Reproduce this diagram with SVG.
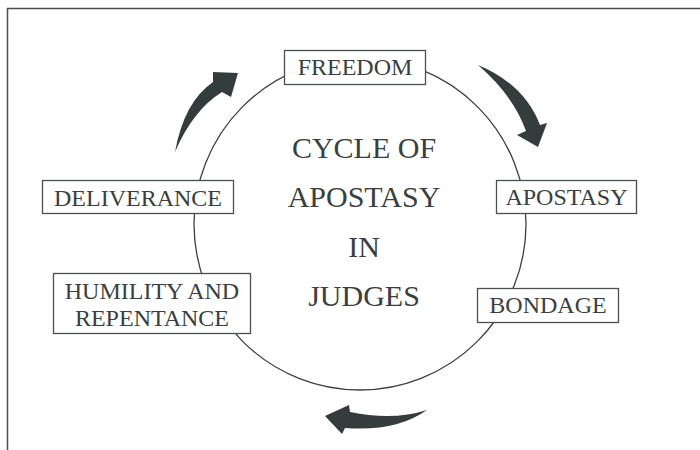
<svg xmlns="http://www.w3.org/2000/svg" width="700" height="450" viewBox="0 0 700 450">
<style>
.frame{fill:none;stroke:#4a4f4f;stroke-width:1.5}
.box{fill:#ffffff;stroke:#4a4f4f;stroke-width:1.3}
.lbl{font-family:"Liberation Serif","Times New Roman",serif;font-size:24px;fill:#3a4040;text-anchor:middle}
.title{font-family:"Liberation Serif","Times New Roman",serif;font-size:30px;fill:#3a4040;text-anchor:middle}
.ring{fill:none;stroke:#3a4040;stroke-width:1.3}
.arrow{fill:#343c3c}
</style>
<rect width="700" height="450" fill="#ffffff"/>
<path class="frame" d="M7.5,450 L7.5,8.5 L700,8.5"/>
<g id="connectors">
<circle class="ring" cx="360" cy="224" r="166"/>
<path class="arrow" d="M175,152 Q184,102 213,82 L213,72 L238,73 L231,97 L222,92 Q193,110 175,152 Z"/>
<path class="arrow" d="M478,65 Q524,84 540,125 L547,123 L538,147 L517,135 L526,131 Q513,95 478,65 Z"/>
<path class="arrow" d="M427,410 Q393,421 350,412 L349,405 L325,416 L342,434 L345,428 Q396,432 427,410 Z"/>
</g>
<g id="title">
<text class="title" x="364" y="158">CYCLE OF</text>
<text class="title" x="364" y="207">APOSTASY</text>
<text class="title" x="364" y="257">IN</text>
<text class="title" x="364" y="306">JUDGES</text>
</g>
<g id="freedom">
<rect class="box" x="284.5" y="50.5" width="141" height="34"/>
<text class="lbl" x="355" y="75">FREEDOM</text>
</g>
<g id="apostasy">
<rect class="box" x="496.5" y="180.5" width="140" height="33"/>
<text class="lbl" x="566.5" y="205">APOSTASY</text>
</g>
<g id="bondage">
<rect class="box" x="477.5" y="288.5" width="141" height="34"/>
<text class="lbl" x="548" y="313">BONDAGE</text>
</g>
<g id="humility">
<rect class="box" x="53.5" y="273.5" width="197" height="60"/>
<text class="lbl" x="152" y="299">HUMILITY AND</text>
<text class="lbl" x="152" y="326">REPENTANCE</text>
</g>
<g id="deliverance">
<rect class="box" x="42.5" y="180.5" width="191" height="33"/>
<text class="lbl" x="138" y="206">DELIVERANCE</text>
</g>
</svg>
